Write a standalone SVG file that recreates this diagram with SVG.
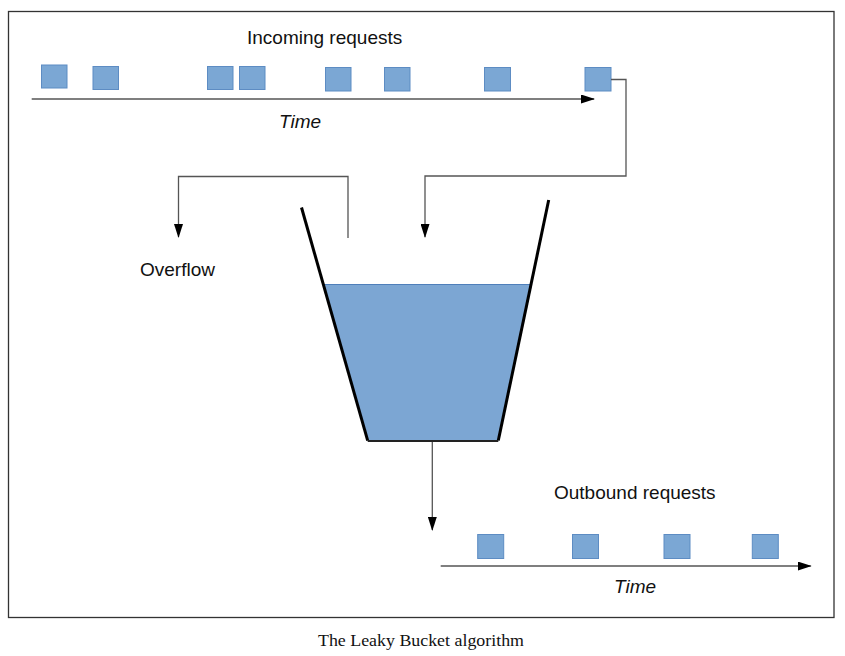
<svg xmlns="http://www.w3.org/2000/svg" width="845" height="656" viewBox="0 0 845 656">
<style>
.lbl{font-family:"Liberation Sans",Arial,sans-serif;font-size:19px;fill:#111}
.it{font-style:italic}
.sq{fill:#7ba7d4;stroke:#5d8cc3;stroke-width:1}
.ln{fill:none;stroke:#555;stroke-width:1.3}
.cap{font-family:"Liberation Serif","DejaVu Serif",serif;font-size:17px;fill:#111}
</style>
<defs>
<marker id="ah" viewBox="0 0 14 9" refX="13" refY="4.5" markerWidth="14" markerHeight="9" markerUnits="userSpaceOnUse" orient="auto">
<path d="M0,0 L14,4.5 L0,9 z" fill="#000"/>
</marker>
</defs>
<rect x="8.5" y="11.5" width="825.5" height="606" fill="#fff" stroke="#333" stroke-width="1.3"/>
<g id="incoming">
<text class="lbl" x="247" y="44">Incoming requests</text>
<rect class="sq" x="41.5" y="65" width="25.5" height="23"/>
<rect class="sq" x="93" y="66.5" width="25.5" height="23"/>
<rect class="sq" x="207.5" y="66.5" width="25.5" height="23"/>
<rect class="sq" x="239.5" y="66.5" width="25.5" height="23"/>
<rect class="sq" x="325.5" y="67.5" width="25.5" height="23.5"/>
<rect class="sq" x="384.5" y="67.5" width="25.5" height="23.5"/>
<rect class="sq" x="484.5" y="67.5" width="26" height="23.5"/>
<rect class="sq" x="585" y="67.5" width="26" height="23.5"/>
<text class="lbl it" x="279" y="128">Time</text>
</g>
<g id="overflow">
<text class="lbl" x="140" y="276">Overflow</text>
</g>
<g id="bucket">
<polygon points="323.5,284.5 532,284.5 498.3,441 367.7,441" fill="#7ca6d3" stroke="none"/>
<line x1="323.5" y1="284.5" x2="532" y2="284.5" stroke="#4f7fba" stroke-width="1"/>
<line x1="301.5" y1="207.5" x2="367.7" y2="440.7" stroke="#000" stroke-width="3"/>
<line x1="548.7" y1="200" x2="498.3" y2="440.5" stroke="#000" stroke-width="3"/>
<line x1="367.7" y1="441" x2="498.3" y2="441" stroke="#222" stroke-width="2"/>
</g>
<g id="outbound">
<text class="lbl" x="554" y="498.5">Outbound requests</text>
<rect class="sq" x="477.7" y="534.5" width="26" height="24"/>
<rect class="sq" x="572.5" y="534.5" width="26" height="24"/>
<rect class="sq" x="664" y="534.5" width="26" height="24"/>
<rect class="sq" x="752.3" y="534.5" width="26" height="24"/>
<text class="lbl it" x="614" y="593">Time</text>
</g>
<g id="connectors">
<line class="ln" x1="31.7" y1="99" x2="594" y2="99" marker-end="url(#ah)"/>
<polyline class="ln" points="611,79.5 626,79.5 626,176 425,176 425,237" marker-end="url(#ah)"/>
<polyline class="ln" points="348,238 348,176.5 178.5,176.5 178.5,237" marker-end="url(#ah)"/>
<line class="ln" x1="432.3" y1="442" x2="432.3" y2="530" marker-end="url(#ah)"/>
<line class="ln" x1="440.7" y1="566" x2="810.7" y2="566" marker-end="url(#ah)"/>
</g>
<text class="cap" x="318" y="646" textLength="206" lengthAdjust="spacingAndGlyphs">The Leaky Bucket algorithm</text>
</svg>
